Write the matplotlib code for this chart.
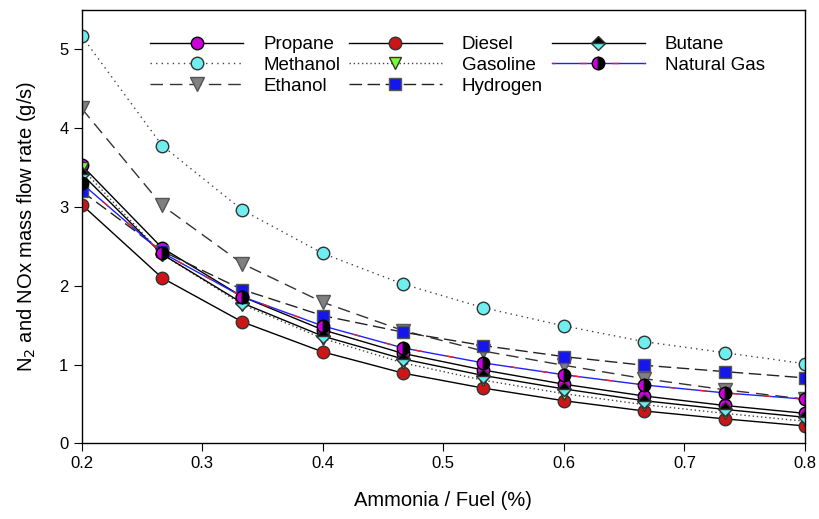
import matplotlib
matplotlib.use("Agg")
import matplotlib.pyplot as plt

plt.rcParams['font.family'] = ['Liberation Sans', 'DejaVu Sans']

# Ammonia / fuel ratio and flow rates (g/s)
ratio = [0.2, 0.2667, 0.3333, 0.4, 0.4667, 0.5333, 0.6, 0.6667, 0.7333, 0.8]
propane = [3.53, 2.48, 1.86, 1.44, 1.14, 0.93, 0.75, 0.60, 0.48, 0.38]
methanol = [5.17, 3.78, 2.96, 2.41, 2.02, 1.72, 1.49, 1.29, 1.15, 1.01]
ethanol = [4.25, 3.02, 2.28, 1.79, 1.43, 1.17, 0.99, 0.82, 0.68, 0.56]
diesel = [3.03, 2.10, 1.54, 1.16, 0.89, 0.70, 0.54, 0.41, 0.31, 0.22]
gasoline = [3.49, 2.40, 1.76, 1.33, 1.02, 0.80, 0.63, 0.49, 0.38, 0.28]
hydrogen = [3.20, 2.44, 1.95, 1.62, 1.41, 1.24, 1.10, 0.99, 0.91, 0.83]
butane = [3.42, 2.40, 1.78, 1.36, 1.07, 0.86, 0.69, 0.54, 0.43, 0.33]
natural_gas = [3.30, 2.42, 1.86, 1.49, 1.21, 1.02, 0.87, 0.74, 0.64, 0.56]

fig = plt.figure(figsize=(8.2, 5.19), dpi=100)
ax = fig.add_axes([0.0996, 0.1459, 0.8821, 0.8348])

lw = 1.0
ms = 9

h_prop, = ax.plot(ratio, propane, color='black', lw=lw, marker='o', ms=ms,
                  mfc='#CC00DD', mec='black', label='Propane')
h_meth, = ax.plot(ratio, methanol, color='#444444', lw=lw, ls=(0, (1, 3)), marker='o', ms=ms,
                  mfc='#6EEEEE', mec='#333333', label='Methanol')
h_eth, = ax.plot(ratio, ethanol, color='#333333', lw=lw, ls=(0, (9, 5)), marker='v', ms=ms + 1,
                 mfc='#808080', mec='#555555', label='Ethanol')
h_dies, = ax.plot(ratio, diesel, color='black', lw=lw, marker='o', ms=ms,
                  mfc='#CC1515', mec='#333333', label='Diesel')
h_gas, = ax.plot(ratio, gasoline, color='#444444', lw=lw, ls=(0, (1, 2)), marker='v', ms=ms,
                 mfc='#77FF33', mec='#333333', label='Gasoline')
h_hyd, = ax.plot(ratio, hydrogen, color='#222222', lw=lw, ls=(0, (9, 4)), marker='s', ms=ms - 0.5,
                 mfc='#1515EE', mec='#555555', label='Hydrogen')
h_but, = ax.plot(ratio, butane, color='black', lw=lw, marker='D', ms=ms - 1.5,
                 fillstyle='top', mfc='black', mfcalt='#66EEEE', mec='#333333', label='Butane')

# natural gas: blue line with red dashes on top
ng_blue, = ax.plot(ratio, natural_gas, color='#2020FF', lw=lw, zorder=2.5)
ng_red, = ax.plot(ratio, natural_gas, color='#EE2020', lw=lw, ls=(3, (5, 18)), zorder=2.6)
ng_mark, = ax.plot(ratio, natural_gas, ls='none', marker='o', ms=ms, fillstyle='left',
                   mfc='#CC00DD', mfcalt='black', mec='black', zorder=2.7)

handles = [h_prop, h_meth, h_eth, h_dies, h_gas, h_hyd, h_but, (ng_blue, ng_red, ng_mark)]
labels = ['Propane', 'Methanol', 'Ethanol', 'Diesel', 'Gasoline', 'Hydrogen', 'Butane', 'Natural Gas']
ax.legend(handles, labels, ncol=3, loc='upper left', bbox_to_anchor=(0.094, 0.94),
          frameon=False, fontsize=13.5, handlelength=5.0, handletextpad=1.05,
          columnspacing=0.45, labelspacing=0.2, borderpad=0, borderaxespad=0)

ax.set_xlim(0.2, 0.8)
ax.set_ylim(0, 5.5)
ax.set_xticks([0.2, 0.3, 0.4, 0.5, 0.6, 0.7, 0.8])
ax.set_yticks([0, 1, 2, 3, 4, 5])
ax.tick_params(direction='out', length=6, labelsize=12, top=False, right=False)
for s in ax.spines.values():
    s.set_linewidth(1.0)

ax.set_xlabel('Ammonia / Fuel (%)', fontsize=14.5, labelpad=14)
ax.set_ylabel('N$_2$ and NOx mass flow rate (g/s)', fontsize=14.5, labelpad=15)

fig.savefig('out.png', dpi=100)
